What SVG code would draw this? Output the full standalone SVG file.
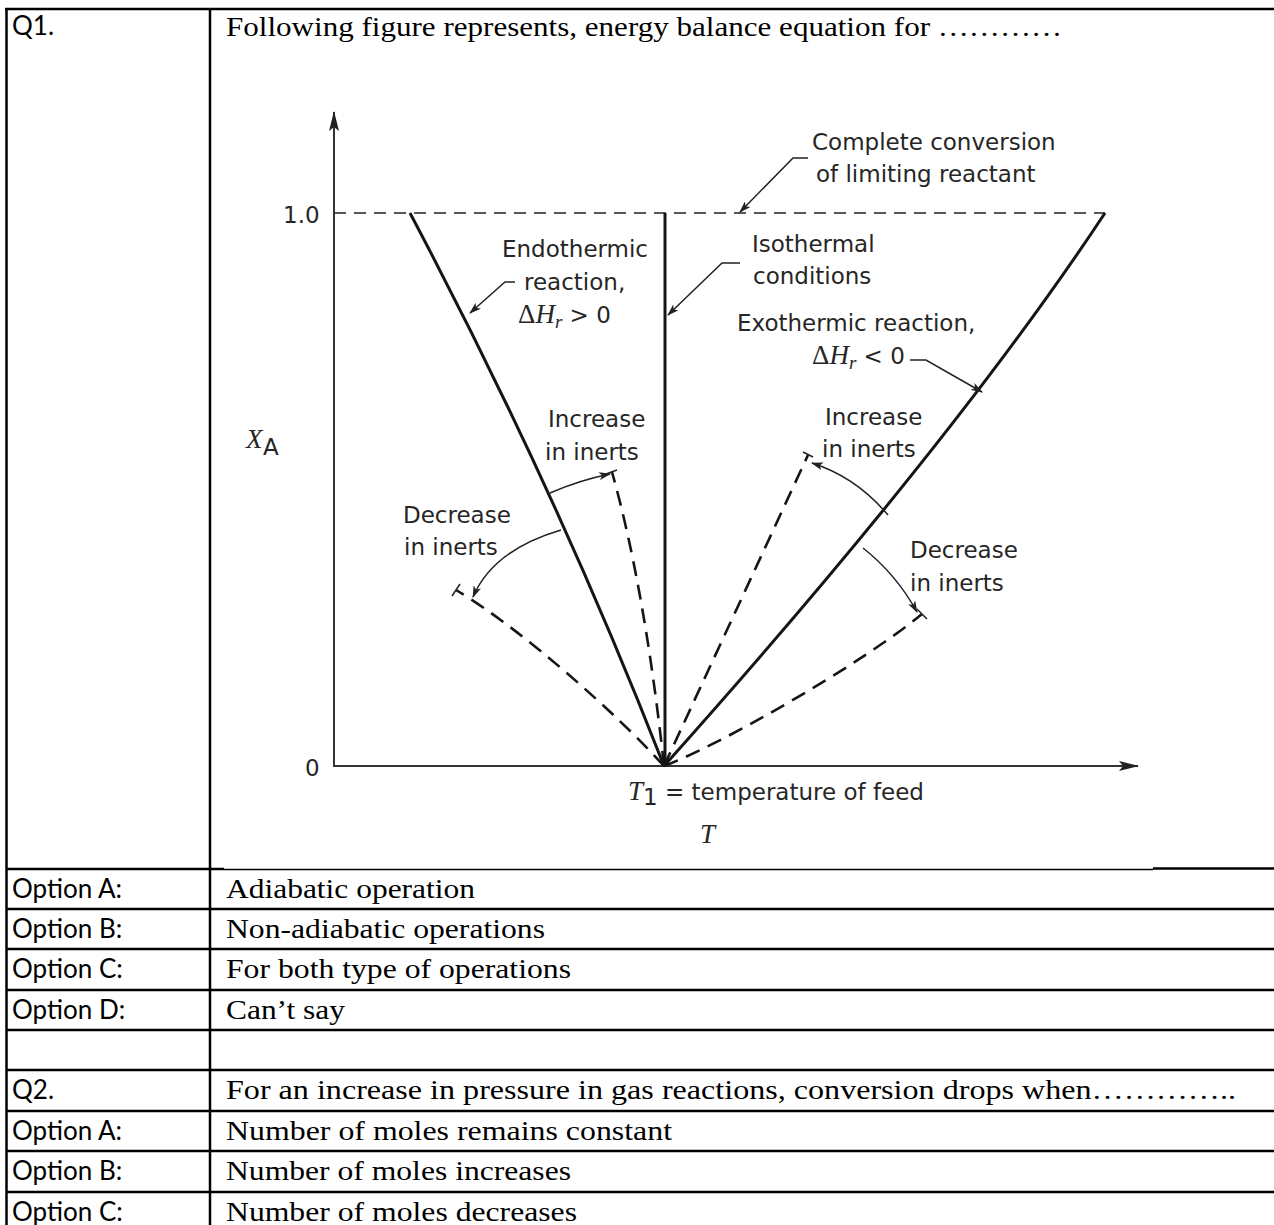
<svg xmlns="http://www.w3.org/2000/svg" width="1274" height="1225" viewBox="0 0 1274 1225">
<defs>
<style>
.lbl{font-family:"DejaVu Sans",sans-serif;font-size:23px;fill:#262626}
.it{font-family:"Liberation Serif",serif;font-style:italic;fill:#262626}
.up{font-family:"Liberation Serif",serif;font-style:normal;fill:#262626}
.tt{font-family:"Liberation Serif",serif;font-size:28px;fill:#000}
.tl{font-family:"Lato",sans-serif;font-size:26px;fill:#000}
.solid{stroke:#151515;stroke-width:3;fill:none}
.dash{stroke:#151515;stroke-width:2.6;fill:none;stroke-dasharray:15 9}
.thin{stroke:#222;stroke-width:1.5;fill:none}
.axis{stroke:#333;stroke-width:2;fill:none}
.grid{stroke:#000;stroke-width:2.5;fill:none}
</style>
<marker id="ah" viewBox="0 0 12 8" refX="11" refY="4" markerWidth="12" markerHeight="8" markerUnits="userSpaceOnUse" orient="auto"><path d="M0,0 L12,4 L0,8 L3,4 z" fill="#222"/></marker>
<marker id="ax" viewBox="0 0 20 10" refX="19" refY="5" markerWidth="20" markerHeight="10" markerUnits="userSpaceOnUse" orient="auto"><path d="M0,0 L20,5 L0,10 L4,5 z" fill="#222"/></marker>
</defs>
<rect width="1274" height="1225" fill="#fff"/>

<g id="table">
<line class="grid" x1="5" y1="9" x2="1274" y2="9"/>
<line class="grid" x1="6.5" y1="9" x2="6.5" y2="1225"/>
<line class="grid" x1="210" y1="9" x2="210" y2="1225"/>
<line class="grid" x1="6" y1="869" x2="224" y2="869"/>
<line stroke="#000" stroke-width="1.3" x1="224" y1="869.5" x2="1153" y2="869.5"/>
<line class="grid" x1="1153" y1="868.5" x2="1274" y2="868.5"/>
<line class="grid" x1="6" y1="909" x2="1274" y2="909"/>
<line class="grid" x1="6" y1="949" x2="1274" y2="949"/>
<line class="grid" x1="6" y1="990" x2="1274" y2="990"/>
<line class="grid" x1="6" y1="1030" x2="1274" y2="1030"/>
<line class="grid" x1="6" y1="1070" x2="1274" y2="1070"/>
<line class="grid" x1="6" y1="1111" x2="1274" y2="1111"/>
<line class="grid" x1="6" y1="1151" x2="1274" y2="1151"/>
<line class="grid" x1="6" y1="1192" x2="1274" y2="1192"/>
<text class="tl" x="12" y="35">Q1.</text>
<text class="tt" x="226" y="36" textLength="836" lengthAdjust="spacingAndGlyphs">Following figure represents, energy balance equation for …………</text>
<text class="tl" x="12" y="898">Option A:</text>
<text class="tt" x="226" y="898" textLength="249" lengthAdjust="spacingAndGlyphs">Adiabatic operation</text>
<text class="tl" x="12" y="938">Option B:</text>
<text class="tt" x="226" y="938" textLength="319" lengthAdjust="spacingAndGlyphs">Non-adiabatic operations</text>
<text class="tl" x="12" y="978">Option C:</text>
<text class="tt" x="226" y="978" textLength="345" lengthAdjust="spacingAndGlyphs">For both type of operations</text>
<text class="tl" x="12" y="1019">Option D:</text>
<text class="tt" x="226" y="1019" textLength="119" lengthAdjust="spacingAndGlyphs">Can’t say</text>
<text class="tl" x="12" y="1099">Q2.</text>
<text class="tt" x="226" y="1099" textLength="1010" lengthAdjust="spacingAndGlyphs">For an increase in pressure in gas reactions, conversion drops when…………..</text>
<text class="tl" x="12" y="1140">Option A:</text>
<text class="tt" x="226" y="1140" textLength="446" lengthAdjust="spacingAndGlyphs">Number of moles remains constant</text>
<text class="tl" x="12" y="1180">Option B:</text>
<text class="tt" x="226" y="1180" textLength="345" lengthAdjust="spacingAndGlyphs">Number of moles increases</text>
<text class="tl" x="12" y="1221">Option C:</text>
<text class="tt" x="226" y="1221" textLength="351" lengthAdjust="spacingAndGlyphs">Number of moles decreases</text>
</g>

<g id="axes">
<line class="axis" x1="334" y1="766" x2="334" y2="112" marker-end="url(#ax)"/>
<line class="axis" x1="333" y1="766" x2="1138" y2="766" marker-end="url(#ax)"/>
<text class="lbl" x="283" y="223" font-size="24">1.0</text>
<text class="lbl" x="305" y="776">0</text>
<text class="it" x="246" y="448" font-size="27">X</text>
<text class="lbl" x="263" y="455" font-size="17">A</text>
<text x="628" y="800"><tspan class="it" font-size="27">T</tspan><tspan class="lbl" font-size="17" dy="5">1</tspan><tspan class="lbl" dy="-5"> = temperature of feed</tspan></text>
<text class="it" x="700" y="843" font-size="27">T</text>
</g>

<g id="connectors">
<line stroke="#222" stroke-width="1.6" stroke-dasharray="12 8" x1="334" y1="213" x2="1105" y2="213"/>
<path id="endothermic" class="solid" d="M410,213 Q556,489 664,766"/>
<line id="isothermal" class="solid" x1="665" y1="213" x2="665" y2="766"/>
<path id="exothermic" class="solid" d="M664,766 C825,586 986,393 1105,213"/>
<path class="dash" d="M664,766 Q645,590 612,472"/>
<line class="thin" x1="606" y1="474" x2="617" y2="470"/>
<path class="dash" d="M664,766 C615,712 520,628 456,590"/>
<line class="thin" x1="452" y1="596" x2="460" y2="584"/>
<line class="dash" x1="664" y1="766" x2="808" y2="455"/>
<line class="thin" x1="803" y1="452" x2="813" y2="457"/>
<path class="dash" d="M664,766 C720,745 860,665 922,614"/>
<line class="thin" x1="917" y1="609" x2="927" y2="619"/>
<path class="thin" d="M550,493 Q580,480 610,474" marker-end="url(#ah)"/>
<path class="thin" d="M561,530 Q493,550 473,597" marker-end="url(#ah)"/>
<path class="thin" d="M888,515 Q856,477 812,463" marker-end="url(#ah)"/>
<path class="thin" d="M863,548 Q896,574 917,612" marker-end="url(#ah)"/>
<path class="thin" d="M808,158 L793,158 L740,212" marker-end="url(#ah)"/>
<path class="thin" d="M740,263 L722,263 L668,315" marker-end="url(#ah)"/>
<path class="thin" d="M515,282 L505,282 L470,313" marker-end="url(#ah)"/>
<path class="thin" d="M910,360 L926,360 L982,392" marker-end="url(#ah)"/>
</g>

<g id="labels">
<text class="lbl" x="812" y="150">Complete conversion</text>
<text class="lbl" x="816" y="182">of limiting reactant</text>
<text class="lbl" x="502" y="257">Endothermic</text>
<text class="lbl" x="524" y="290">reaction,</text>
<text x="518" y="323"><tspan class="up" font-size="27">Δ</tspan><tspan class="it" font-size="27">H</tspan><tspan class="it" font-size="19" dy="5">r</tspan><tspan class="lbl" dy="-5"> &gt; 0</tspan></text>
<text class="lbl" x="752" y="252">Isothermal</text>
<text class="lbl" x="753" y="284">conditions</text>
<text class="lbl" x="737" y="331">Exothermic reaction,</text>
<text x="812" y="364"><tspan class="up" font-size="27">Δ</tspan><tspan class="it" font-size="27">H</tspan><tspan class="it" font-size="19" dy="5">r</tspan><tspan class="lbl" dy="-5"> &lt; 0</tspan></text>
<text class="lbl" x="548" y="427">Increase</text>
<text class="lbl" x="545" y="460">in inerts</text>
<text class="lbl" x="403" y="523">Decrease</text>
<text class="lbl" x="404" y="555">in inerts</text>
<text class="lbl" x="825" y="425">Increase</text>
<text class="lbl" x="822" y="457">in inerts</text>
<text class="lbl" x="910" y="558">Decrease</text>
<text class="lbl" x="910" y="591">in inerts</text>
</g>
</svg>
